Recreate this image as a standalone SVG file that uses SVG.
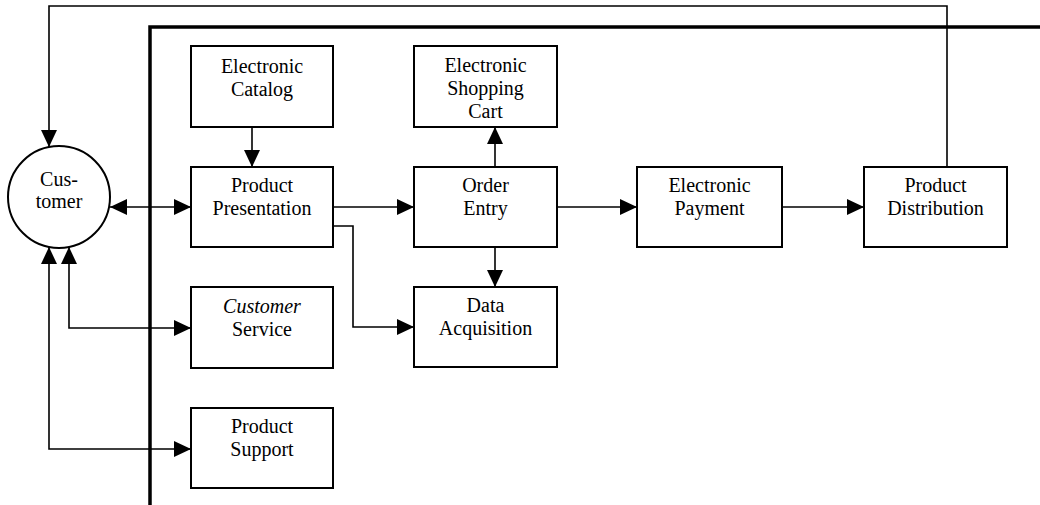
<svg xmlns="http://www.w3.org/2000/svg" width="1040" height="505" viewBox="0 0 1040 505">
<style>
.box{fill:#fff;stroke:#000;stroke-width:2}
.t{font-family:"Liberation Serif","Times New Roman",serif;font-size:20px;fill:#000;text-anchor:middle}
.c{fill:none;stroke:#000;stroke-width:1.6}
.frame{fill:none;stroke:#000;stroke-width:3.5}
</style>
<defs>
<marker id="ah" markerUnits="userSpaceOnUse" markerWidth="18" markerHeight="16" refX="17" refY="8" orient="auto-start-reverse" viewBox="0 0 18 16">
<path d="M0,0 L17,8 L0,16 z" fill="#000"/>
</marker>
</defs>
<rect width="1040" height="505" fill="#fff"/>
<path class="frame" d="M150,505 V27 H1040"/>
<g id="connectors">
<path class="c" d="M252,127 V167" marker-end="url(#ah)"/>
<path class="c" d="M333,207 H414" marker-end="url(#ah)"/>
<path class="c" d="M333,226 H353 V327 H414" marker-end="url(#ah)"/>
<path class="c" d="M495,167 V127" marker-end="url(#ah)"/>
<path class="c" d="M495,247 V287" marker-end="url(#ah)"/>
<path class="c" d="M557,207 H637" marker-end="url(#ah)"/>
<path class="c" d="M782,207 H864" marker-end="url(#ah)"/>
<path class="c" d="M947,167 V6 H49 V147" marker-end="url(#ah)"/>
<path class="c" d="M110,207 H191" marker-start="url(#ah)" marker-end="url(#ah)"/>
<path class="c" d="M69,247 V328 H191" marker-start="url(#ah)" marker-end="url(#ah)"/>
<path class="c" d="M49,247 V449 H191" marker-start="url(#ah)" marker-end="url(#ah)"/>
</g>
<g id="customer">
<circle cx="59" cy="197" r="51" fill="#fff" stroke="#000" stroke-width="2"/>
<text class="t" x="59" y="186">Cus-</text>
<text class="t" x="59" y="208">tomer</text>
</g>
<g id="catalog">
<rect class="box" x="191" y="46" width="142" height="81"/>
<text class="t" x="262" y="73">Electronic</text>
<text class="t" x="262" y="96">Catalog</text>
</g>
<g id="presentation">
<rect class="box" x="191" y="167" width="142" height="80"/>
<text class="t" x="262" y="192">Product</text>
<text class="t" x="262" y="215">Presentation</text>
</g>
<g id="cart">
<rect class="box" x="414" y="46" width="143" height="81"/>
<text class="t" x="485.5" y="72">Electronic</text>
<text class="t" x="485.5" y="95">Shopping</text>
<text class="t" x="485.5" y="118">Cart</text>
</g>
<g id="order">
<rect class="box" x="414" y="167" width="143" height="80"/>
<text class="t" x="485.5" y="192">Order</text>
<text class="t" x="485.5" y="215">Entry</text>
</g>
<g id="data">
<rect class="box" x="414" y="287" width="143" height="80"/>
<text class="t" x="485.5" y="312">Data</text>
<text class="t" x="485.5" y="335">Acquisition</text>
</g>
<g id="payment">
<rect class="box" x="637" y="167" width="145" height="80"/>
<text class="t" x="709.5" y="192">Electronic</text>
<text class="t" x="709.5" y="215">Payment</text>
</g>
<g id="distribution">
<rect class="box" x="864" y="167" width="143" height="80"/>
<text class="t" x="935.5" y="192">Product</text>
<text class="t" x="935.5" y="215">Distribution</text>
</g>
<g id="service">
<rect class="box" x="191" y="287" width="142" height="81"/>
<text class="t" x="262" y="313" font-style="italic">Customer</text>
<text class="t" x="262" y="336">Service</text>
</g>
<g id="support">
<rect class="box" x="191" y="408" width="142" height="80"/>
<text class="t" x="262" y="433">Product</text>
<text class="t" x="262" y="456">Support</text>
</g>
</svg>
